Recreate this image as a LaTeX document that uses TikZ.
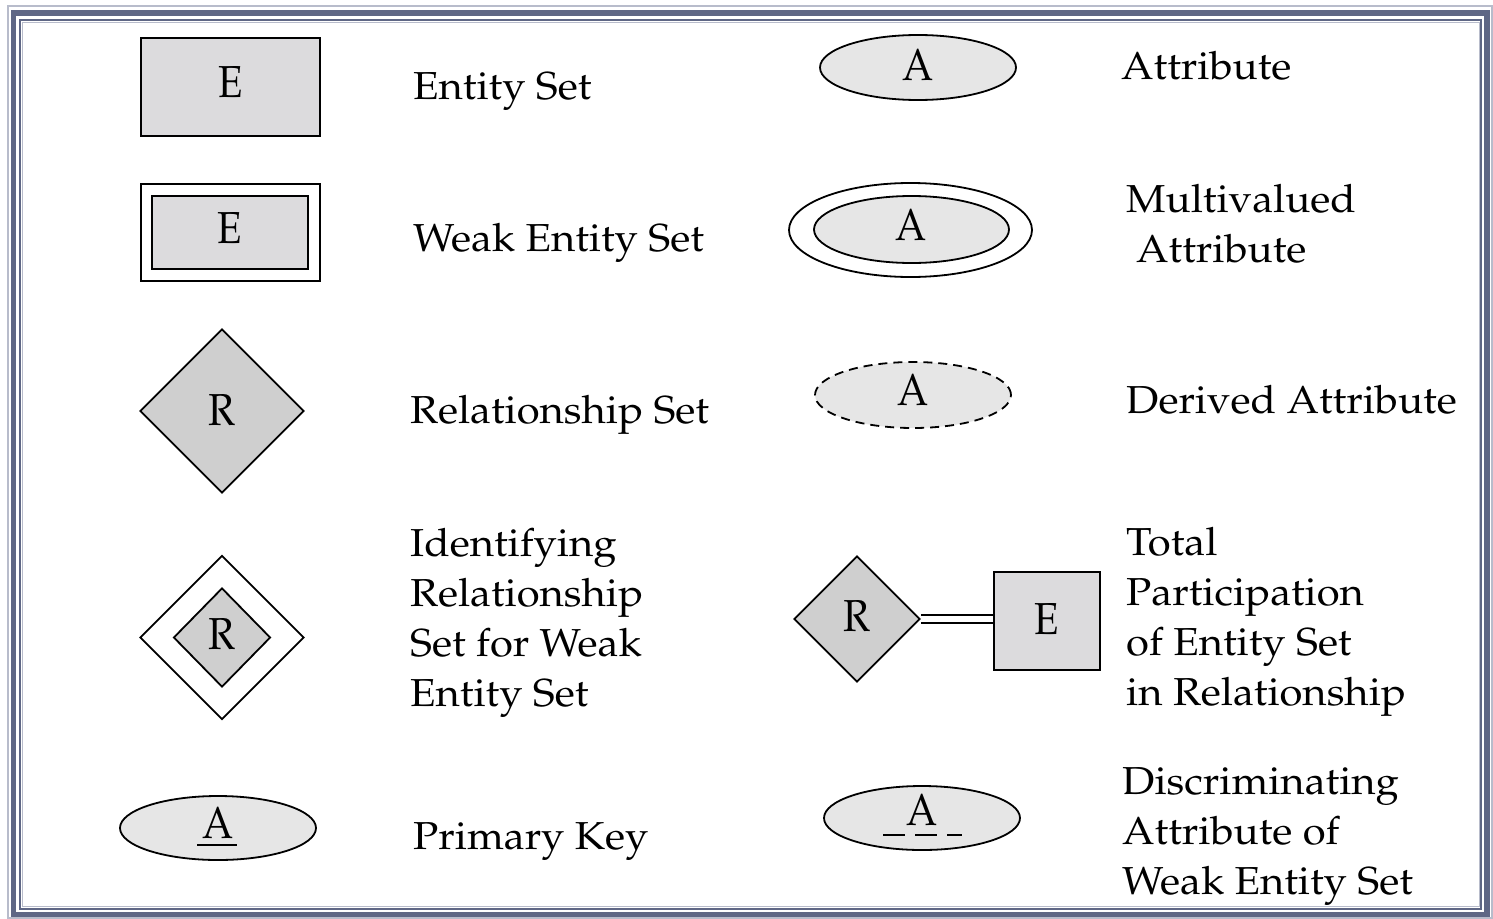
\documentclass[tikz,border=0pt]{standalone}
\usepackage[T1]{fontenc}
\usepackage{mathpazo}
\usepackage{graphicx}
\usetikzlibrary{shapes.geometric,calc}
\definecolor{frameblue}{HTML}{5F6785}
\definecolor{framelight}{HTML}{B8BCCB}
\definecolor{entfill}{HTML}{DCDBDD}
\definecolor{relfill}{HTML}{CFCFCF}
\definecolor{attfill}{HTML}{E6E6E6}
\newcommand\widetxt[1]{\scalebox{1.07}[1]{#1}}
\newcommand\tallch[1]{\scalebox{1}[1.12]{#1}}
\tikzset{
  lbl/.style={anchor=base west, inner sep=0pt, font=\fontsize{39}{50}\selectfont},
  bl/.style={text height=#1, text depth=0pt},
  sym/.style={font=\fontsize{40}{46}\selectfont, inner sep=0pt, line width=1.8pt},
  entbox/.style={sym, draw, fill=entfill, rectangle},
  relbox/.style={sym, draw, fill=relfill, diamond},
  attbox/.style={sym, draw, fill=attfill, ellipse},
}
\begin{document}
\begin{tikzpicture}[x=1pt,y=-1pt]
\useasboundingbox (0,0) rectangle (1493,918);
% frame
\draw[framelight, line width=1.5pt] (8,6) rectangle (1492,918);
\draw[frameblue, line width=5.5pt] (13.5,13) rectangle (1487,914.5);
\draw[frameblue, line width=2pt] (20,20) rectangle (1481,908.5);
\draw[framelight, line width=1pt] (22,22) rectangle (1479,906.5);
% left column symbols
\node[entbox, bl=20pt, minimum width=179pt, minimum height=98pt] (ent) at (230.5,87) {\tallch{E}};
\node[sym, draw, fill=white, minimum width=179pt, minimum height=97pt] (wkout) at (230.5,232.5) {};
\node[entbox, bl=21pt, minimum width=156pt, minimum height=73pt] (wkin) at (230,232.5) {\tallch{E}};
\node[relbox, bl=28pt, minimum width=164pt, minimum height=164pt] (rel) at (222,411) {\tallch{R}};
\node[sym, draw, fill=white, diamond, minimum width=164pt, minimum height=164pt] (idout) at (222,637.5) {};
\node[relbox, bl=24pt, minimum width=97pt, minimum height=99pt] (idin) at (222,637.5) {\tallch{R}};
\node[attbox, bl=20pt, minimum width=196pt, minimum height=64pt] (pk) at (218,828) {\tallch{A}};
\draw[line width=2.5pt] ($(pk.center)+(-21,17)$) -- ($(pk.center)+(19,17)$);
% right column symbols
\node[attbox, bl=25pt, minimum width=196pt, minimum height=65pt] (att) at (918,67.5) {\tallch{A}};
\node[sym, draw, fill=white, ellipse, minimum width=243pt, minimum height=94pt] (mvout) at (910.5,230) {};
\node[attbox, bl=22pt, minimum width=195pt, minimum height=67pt] (mvin) at (911.5,229.5) {\tallch{A}};
\node[attbox, bl=20pt, dashed, dash pattern=on 9pt off 6pt, minimum width=196pt, minimum height=66pt] (der) at (913,395) {\tallch{A}};
\node[relbox, bl=24pt, minimum width=126pt, minimum height=126pt] (trel) at (857,619) {\tallch{R}};
\node[entbox, bl=26pt, minimum width=106pt, minimum height=98pt] (tent) at (1047,621) {\tallch{E}};
\draw[line width=2pt, double, double distance=6pt] (trel.east) -- (trel.east -| tent.west);
\node[attbox, bl=14pt, minimum width=196pt, minimum height=64pt] (disc) at (922,818) {\tallch{A}};
\coordinate (dl) at ($(disc.center)+(-39,17)$);
\coordinate (dr) at ($(disc.center)+(40,17)$);
\draw[line width=2pt, dash pattern=on 22pt off 10pt] (dl) -- (dr);
% left labels
\node[lbl] (l1) at (413,99) {\widetxt{Entity Set}};
\node[lbl] (l2) at (413,251) {\widetxt{Weak Entity Set}};
\node[lbl] (l3) at (410,423) {\widetxt{Relationship Set}};
\node[lbl] (l4a) at (410,556) {\widetxt{Identifying}};
\node[lbl] (l4b) at (410,606) {\widetxt{Relationship}};
\node[lbl] (l4c) at (410,656) {\widetxt{Set for Weak}};
\node[lbl] (l4d) at (410,706) {\widetxt{Entity Set}};
\node[lbl] (l5) at (413,849) {\widetxt{Primary Key}};
% right labels
\node[lbl] (r1) at (1121,79) {\widetxt{Attribute}};
\node[lbl] (r2a) at (1126,212) {\widetxt{Multivalued}};
\node[lbl] (r2b) at (1136,262) {\widetxt{Attribute}};
\node[lbl] (r3) at (1126,413) {\widetxt{Derived Attribute}};
\node[lbl] (r4a) at (1126,555) {\widetxt{Total}};
\node[lbl] (r4b) at (1126,605) {\widetxt{Participation}};
\node[lbl] (r4c) at (1126,655) {\widetxt{of Entity Set}};
\node[lbl] (r4d) at (1126,705) {\widetxt{in Relationship}};
\node[lbl] (r5a) at (1122,794) {\widetxt{Discriminating}};
\node[lbl] (r5b) at (1122,844) {\widetxt{Attribute of}};
\node[lbl] (r5c) at (1122,894) {\widetxt{Weak Entity Set}};
\end{tikzpicture}
\end{document}
